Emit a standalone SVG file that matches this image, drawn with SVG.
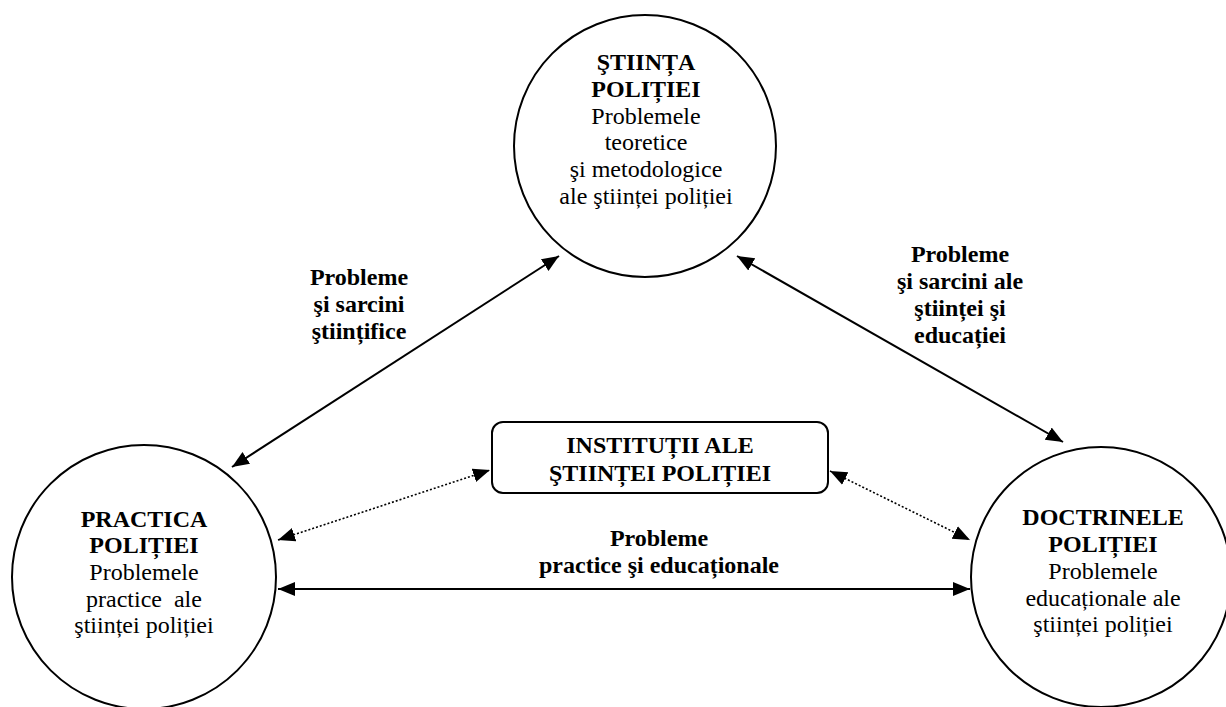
<svg xmlns="http://www.w3.org/2000/svg" width="1226" height="707" viewBox="0 0 1226 707">
<defs>
<style>
.n{fill:#fff;stroke:#000;stroke-width:2}
.t{font-family:"Liberation Serif","Times New Roman",serif;font-size:24px;fill:#000;text-anchor:middle}
.b{font-weight:bold}
.s{fill:none;stroke:#000;stroke-width:2}
.d{fill:none;stroke:#000;stroke-width:1.6;stroke-dasharray:2 2}
</style>
<marker id="ah" markerUnits="userSpaceOnUse" markerWidth="18" markerHeight="16" refX="17" refY="7" orient="auto-start-reverse" viewBox="0 0 18 14">
<path d="M0,0 L17,7 L0,14 Z" fill="#000"/>
</marker>
</defs>
<g id="connectors">
<line class="s" x1="232" y1="467" x2="559" y2="256" marker-start="url(#ah)" marker-end="url(#ah)"/>
<line class="s" x1="737" y1="256" x2="1063" y2="442" marker-start="url(#ah)" marker-end="url(#ah)"/>
<line class="s" x1="278" y1="589" x2="970" y2="589" marker-start="url(#ah)" marker-end="url(#ah)"/>
<line class="d" x1="278" y1="540" x2="490" y2="470" marker-start="url(#ah)" marker-end="url(#ah)"/>
<line class="d" x1="830" y1="471" x2="970" y2="540" marker-start="url(#ah)" marker-end="url(#ah)"/>
</g>
<g id="node-stiinta">
<circle class="n" cx="645" cy="146" r="131"/>
<text class="t b" x="646" y="70">ŞTIINȚA</text>
<text class="t b" x="646" y="97">POLIȚIEI</text>
<text class="t" x="646" y="124">Problemele</text>
<text class="t" x="646" y="150">teoretice</text>
<text class="t" x="646" y="177">şi metodologice</text>
<text class="t" x="646" y="204">ale ştiinței poliției</text>
</g>
<g id="node-practica">
<circle class="n" cx="144" cy="577" r="132"/>
<text class="t b" x="144" y="527">PRACTICA</text>
<text class="t b" x="144" y="553">POLIȚIEI</text>
<text class="t" x="144" y="580">Problemele</text>
<text class="t" x="144" y="607">practice&#160; ale</text>
<text class="t" x="144" y="633">ştiinței poliției</text>
</g>
<g id="node-doctrinele">
<circle class="n" cx="1101" cy="577" r="130"/>
<text class="t b" x="1103" y="525">DOCTRINELE</text>
<text class="t b" x="1103" y="552">POLIȚIEI</text>
<text class="t" x="1103" y="579">Problemele</text>
<text class="t" x="1103" y="606">educaționale ale</text>
<text class="t" x="1103" y="632">ştiinței poliției</text>
</g>
<g id="node-institutii">
<rect class="n" x="492" y="422" width="336" height="71" rx="11"/>
<text class="t b" x="660" y="453">INSTITUȚII ALE</text>
<text class="t b" x="660" y="481">ŞTIINȚEI POLIȚIEI</text>
</g>
<g id="labels">
<text class="t b" x="359" y="285">Probleme</text>
<text class="t b" x="359" y="312">şi sarcini</text>
<text class="t b" x="359" y="339">ştiințifice</text>
<text class="t b" x="960" y="262">Probleme</text>
<text class="t b" x="960" y="289">şi sarcini ale</text>
<text class="t b" x="960" y="316">ştiinței şi</text>
<text class="t b" x="960" y="343">educației</text>
<text class="t b" x="659" y="546">Probleme</text>
<text class="t b" x="659" y="573">practice şi educaționale</text>
</g>
</svg>
